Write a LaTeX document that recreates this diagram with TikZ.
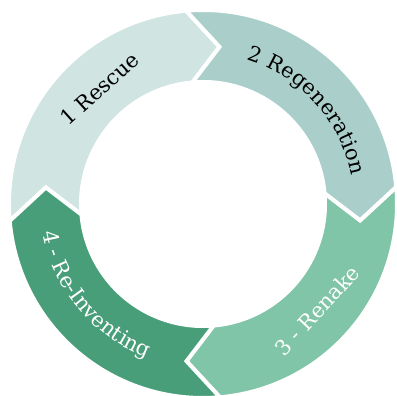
\documentclass[tikz,border=0pt]{standalone}
\usepackage{fontspec}
\setmainfont{DejaVu Serif}
\usepackage{xcolor}
\usetikzlibrary{decorations.text}

\definecolor{rescue}{HTML}{D0E4E2}
\definecolor{regen}{HTML}{AACFCB}
\definecolor{renake}{HTML}{80C5A7}
\definecolor{reinvent}{HTML}{489E79}

\newcommand{\ringfont}{\fontsize{10.5}{12}\selectfont}

\tikzset{
  ringpart/.style={fill=#1, draw=white, line width=2pt},
  ringlabel/.style={font=\ringfont, inner sep=0pt}
}

% tail angle, head angle, colour
\newcommand{\ringpiece}[3]{%
  \draw[ringpart=#3] (#1:97pt) arc[start angle=#1, end angle=#2, radius=97pt]
    -- (#2-11:79pt) -- (#2:61pt) arc[start angle=#2, end angle=#1, radius=61pt]
    -- (#1-11:79pt) -- cycle;
}

\begin{document}
\begin{tikzpicture}
\useasboundingbox (-101.5pt,-96pt) rectangle (97pt,102pt);

\ringpiece{185}{95}{rescue}
\ringpiece{95}{5}{regen}
\ringpiece{5}{-85}{renake}
\ringpiece{275}{185}{reinvent}

\node[ringlabel, rotate=42] (rescue) at (132:77.5pt) {1 Rescue};
\node[ringlabel, text=white, rotate=47] (renake) at (-43:78pt) {3 - Renake};

\path[decorate, decoration={text along path, text align=center,
  text={|\ringfont|2 Regeneration}}]
  (77:75.5pt) arc[start angle=77, end angle=7, radius=75.5pt];
\path[decorate, decoration={text along path, text align=center, text color=white,
  text={|\ringfont|4 - Re-Inventing}}]
  (185:81.5pt) arc[start angle=185, end angle=255, radius=81.5pt];

\end{tikzpicture}
\end{document}
